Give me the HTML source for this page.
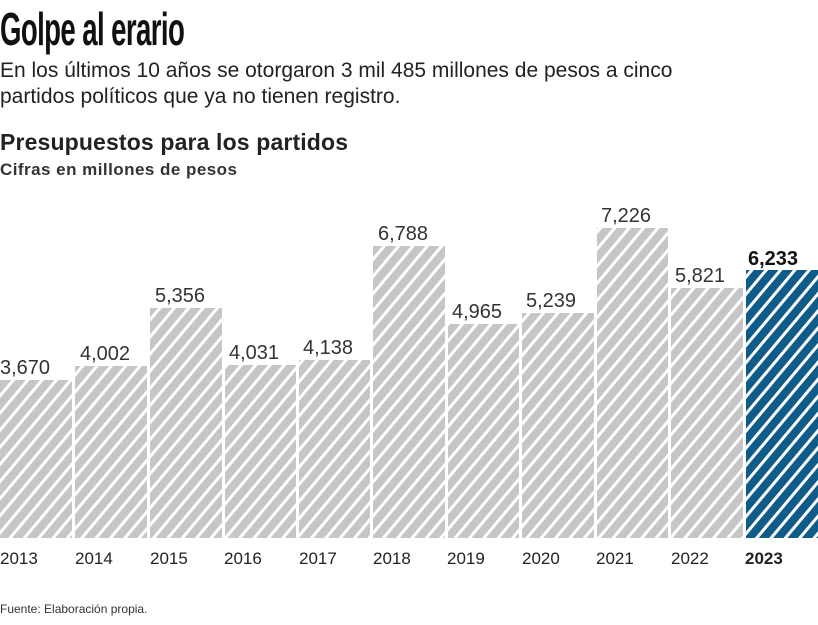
<!DOCTYPE html>
<html><head><meta charset="utf-8"><style>
body{margin:0;background:#fff;width:818px;height:620px;overflow:hidden;font-family:"Liberation Sans",sans-serif;color:#222}
</style></head><body>
<svg width="818" height="620" xmlns="http://www.w3.org/2000/svg" font-family="Liberation Sans, sans-serif">
<defs>
<pattern id="g" patternUnits="userSpaceOnUse" width="11" height="11" patternTransform="rotate(40)">
<rect width="11" height="11" fill="#c6c6c6"/><rect width="3" height="11" fill="#fff"/></pattern>
<pattern id="b" patternUnits="userSpaceOnUse" width="11" height="11" patternTransform="rotate(40)">
<rect width="11" height="11" fill="#0f5c8a"/><rect width="3" height="11" fill="#fff"/></pattern>
</defs>
<text x="0" y="45" font-size="46" font-weight="bold" fill="#111" transform="scale(0.6,1)" letter-spacing="-1">Golpe al erario</text>
<text x="0" y="77" font-size="21" fill="#222">En los últimos 10 años se otorgaron 3 mil 485 millones de pesos a cinco</text>
<text x="0" y="103" font-size="21" fill="#222">partidos políticos que ya no tienen registro.</text>
<text x="0" y="150" font-size="23" font-weight="bold" fill="#222" textLength="348">Presupuestos para los partidos</text>
<text x="0" y="175" font-size="17" font-weight="bold" fill="#333" textLength="237">Cifras en millones de pesos</text>
<g font-size="20" fill="#333">
<rect x="0" y="380" width="72" height="158" fill="url(#g)"/><text x="0" y="374">3,670</text>
<rect x="75" y="366" width="72" height="172" fill="url(#g)"/><text x="80" y="360">4,002</text>
<rect x="150" y="308" width="72" height="230" fill="url(#g)"/><text x="155" y="302">5,356</text>
<rect x="225" y="365" width="71" height="173" fill="url(#g)"/><text x="229" y="359">4,031</text>
<rect x="299" y="360" width="71" height="178" fill="url(#g)"/><text x="303" y="354">4,138</text>
<rect x="373" y="246" width="72" height="292" fill="url(#g)"/><text x="378" y="240">6,788</text>
<rect x="448" y="324" width="71" height="214" fill="url(#g)"/><text x="452" y="318">4,965</text>
<rect x="522" y="313" width="72" height="225" fill="url(#g)"/><text x="526" y="307">5,239</text>
<rect x="597" y="228" width="71" height="310" fill="url(#g)"/><text x="601" y="222">7,226</text>
<rect x="671" y="288" width="72" height="250" fill="url(#g)"/><text x="675" y="282">5,821</text>
<rect x="746" y="270" width="72" height="268" fill="url(#b)"/><text x="748" y="265" font-weight="bold" fill="#111">6,233</text>
</g>
<g font-size="17" fill="#222">
<text x="0" y="564">2013</text><text x="75" y="564">2014</text><text x="150" y="564">2015</text>
<text x="224" y="564">2016</text><text x="299" y="564">2017</text><text x="373" y="564">2018</text>
<text x="447" y="564">2019</text><text x="522" y="564">2020</text><text x="596" y="564">2021</text>
<text x="671" y="564">2022</text><text x="745" y="564" font-weight="bold">2023</text>
</g>
<text x="0" y="613" font-size="12" fill="#333">Fuente: Elaboración propia.</text>
</svg>
</body></html>
